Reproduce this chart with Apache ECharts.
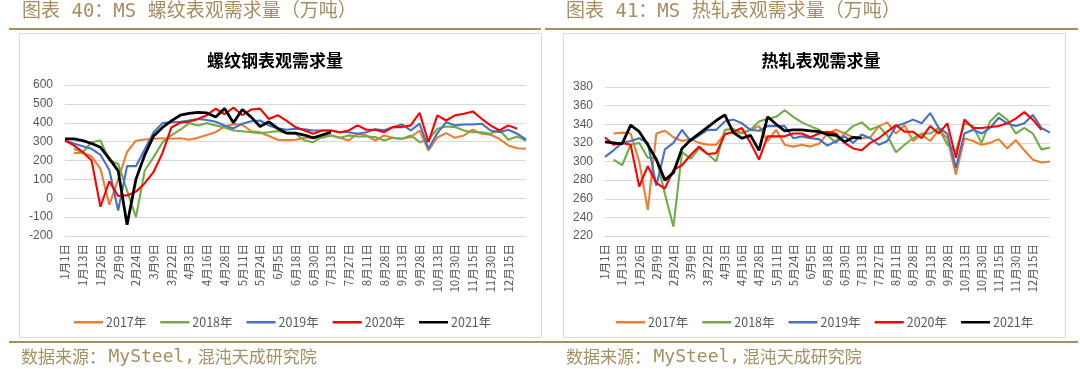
<!DOCTYPE html>
<html><head><meta charset="utf-8">
<script src="https://cdn.jsdelivr.net/npm/echarts@6/dist/echarts.min.js"></script>
<style>html,body{margin:0;padding:0;background:#fff}#c{width:1080px;height:369px}</style>
</head><body><div id="c"></div>
<script>
const categories = ['1月1日','1月7日','1月13日','1月19日','1月26日','2月2日','2月9日','2月16日','2月24日','3月2日','3月9日','3月15日','3月22日','3月28日','4月3日','4月10日','4月16日','4月22日','4月28日','5月5日','5月11日','5月17日','5月24日','5月30日','6月5日','6月11日','6月18日','6月24日','6月30日','7月6日','7月13日','7月20日','7月27日','8月3日','8月11日','8月20日','8月28日','9月5日','9月13日','9月20日','9月28日','10月6日','10月13日','10月22日','10月30日','11月7日','11月15日','11月22日','11月30日','12月7日','12月15日','12月22日','12月29日'];
const seriesNames = ['2017年','2018年','2019年','2020年','2021年'];

// 螺纹 (rebar) apparent demand
const rebar2017 = [null,240,240,222,156,-35,100,245,305,311,315,318,315,318,310,320,335,350,380,392,390,355,350,330,310,308,310,320,324,320,333,320,306,342,333,306,333,320,315,324,359,253,322,345,320,333,363,342,336,315,280,265,262];
const rebar2018 = [null,262,244,297,306,200,182,40,-100,147,218,297,333,363,398,386,398,386,375,359,355,350,345,350,356,345,342,306,297,327,333,320,333,327,327,324,306,320,315,333,297,310,368,380,377,359,350,350,342,363,310,327,306];
const rebar2019 = [306,290,275,262,230,150,-65,170,170,260,350,398,403,405,412,420,415,405,385,370,395,408,412,386,370,363,368,365,359,359,359,350,350,342,350,365,360,377,391,359,395,262,345,403,386,391,391,395,359,350,363,342,312];
const rebar2020 = [306,280,245,200,-45,90,12,15,35,80,140,240,375,400,405,420,440,475,445,480,440,470,475,420,440,410,377,359,342,359,359,350,359,386,363,363,350,377,377,386,453,297,439,412,439,448,460,421,386,359,386,368,null];
const rebar2021 = [315,315,305,290,270,210,145,-140,100,230,330,375,410,440,450,455,452,430,475,400,470,430,380,405,370,345,345,335,320,335,350];

// 热轧 (hot-rolled) apparent demand
const hrc2017 = [null,330,331,330,300,248,330,333,326,322,324,320,318,318,330,331,331,334,338,322,334,318,316,318,316,319,330,334,330,326,325,326,338,342,330,339,322,329,322,334,325,286,325,322,318,320,324,314,323,312,302,299,300];
const hrc2018 = [null,302,296,318,320,304,304,265,230,310,303,314,308,300,334,335,330,334,343,346,348,355,348,342,338,334,328,320,330,338,342,334,338,328,310,318,325,330,330,336,318,311,341,338,320,343,352,345,330,336,330,313,315];
const hrc2019 = [305,312,320,322,325,320,274,313,320,334,322,328,334,334,343,345,341,334,333,338,338,338,325,327,325,324,317,322,327,320,329,325,318,322,338,341,345,341,352,336,330,293,330,334,330,336,347,341,338,341,350,336,331];
const hrc2020 = [326,318,320,318,273,295,277,271,291,296,307,316,308,309,329,332,336,320,302,327,327,327,330,330,326,330,332,330,320,314,312,320,325,332,339,332,332,325,338,330,341,304,345,336,336,337,338,341,346,353,345,334,null];
const hrc2021 = [321,320,319,339,332,318,302,280,288,314,323,330,337,344,350,331,325,328,312,348,340,333,334,334,333,332,329,328,321,326,325];

const rebarTicks = {min:-200, max:600, interval:100};
const hrcTicks = {min:220, max:380, interval:20};

const colors = ['#ED7D31','#70AD47','#4472C4','#FF0000','#000000'];
const gold = '#a88d5e';
const cjk = "'Noto Sans CJK SC',sans-serif";
const latinCjk = "'DejaVu Sans Mono','Noto Sans CJK SC',sans-serif";

function makeSeries(arrs, gi){
  return arrs.map((d,k)=>({
    name: seriesNames[k], type:'line', xAxisIndex:gi, yAxisIndex:gi,
    data:d, showSymbol:false, symbol:'none', smooth:false, connectNulls:false,
    lineStyle:{color:colors[k], width: k===4?2.8:2.1},
    itemStyle:{color:colors[k]}, z: k===4?10:5+k
  }));
}
function xAx(gi){
  return {type:'category', gridIndex:gi, data:categories, boundaryGap:false,
    axisLine:{show:true, onZero:false, lineStyle:{color:'#d9d9d9'}},
    axisTick:{show:false},
    axisLabel:{rotate:90, color:'#595959', fontSize:11.5, margin:8, fontFamily:cjk,
      interval:(i)=> i%2===0 && i<=50 }};
}
function yAx(gi,t){
  return {type:'value', gridIndex:gi, min:t.min, max:t.max, interval:t.interval,
    axisLine:{show:false}, axisTick:{show:false},
    axisLabel:{color:'#595959', fontSize:12, margin:12, fontFamily:'Liberation Sans, Arial, sans-serif'},
    splitLine:{lineStyle:{color:'#d9d9d9', width:1}}};
}
function legend(left){
  return {data:seriesNames, left:left, top:311, itemWidth:29, itemHeight:12, itemGap:14,
    icon:'path://M0,5L29,5L29,7.5L0,7.5Z',
    textStyle:{color:'#595959', fontSize:12.5, fontFamily:cjk, padding:[0,0,0,-2]}};
}
function footer(left){
  return {type:'text', left:left, top:348, style:{
    text:'{a|数据来源：}{b|MySteel,}{a|混沌天成研究院}',
    rich:{a:{font:"17px "+cjk, fill:gold, padding:[0,0.5,0,0.5]}, b:{font:"18px 'DejaVu Sans Mono',monospace", fill:gold, padding:[0,2,0,2]}}}};
}

const chart = echarts.init(document.getElementById('c'), null, {renderer:'canvas'});
chart.setOption({
  animation:false,
  backgroundColor:'#ffffff',
  title:[
    {text:'螺纹钢表观需求量', left:270, top:47, textAlign:'center',
     textStyle:{fontSize:17, fontWeight:'bold', color:'#000', fontFamily:cjk}},
    {text:'热轧表观需求量', left:816, top:47, textAlign:'center',
     textStyle:{fontSize:17, fontWeight:'bold', color:'#000', fontFamily:cjk}}
  ],
  legend:[legend(69), legend(611)],
  grid:[
    {left:65, top:85, width:461, height:151, containLabel:false},
    {left:605, top:87, width:445, height:149, containLabel:false}
  ],
  xAxis:[xAx(0), xAx(1)],
  yAxis:[yAx(0,rebarTicks), yAx(1,hrcTicks)],
  series:[...makeSeries([rebar2017,rebar2018,rebar2019,rebar2020,rebar2021],0),
          ...makeSeries([hrc2017,hrc2018,hrc2019,hrc2020,hrc2021],1)],
  graphic:[
    {type:'text', left:22, top:3, style:{text:'图表 40：MS 螺纹表观需求量（万吨）', fill:gold, font:"19px "+latinCjk}},
    {type:'text', left:566, top:3, style:{text:'图表 41：MS 热轧表观需求量（万吨）', fill:gold, font:"19px "+latinCjk}},
    {type:'line', shape:{x1:9,y1:29,x2:541,y2:29}, style:{stroke:gold, lineWidth:2}},
    {type:'line', shape:{x1:545,y1:29,x2:1078,y2:29}, style:{stroke:gold, lineWidth:2}},
    {type:'rect', shape:{x:19.5,y:33.5,width:522,height:304}, style:{fill:'none', stroke:'#d9d9d9', lineWidth:1}, z:-1},
    {type:'rect', shape:{x:563.5,y:33.5,width:502,height:304}, style:{fill:'none', stroke:'#d9d9d9', lineWidth:1}, z:-1},
    {type:'line', shape:{x1:9,y1:342,x2:1078,y2:342}, style:{stroke:gold, lineWidth:2}},
    footer(21), footer(566)
  ]
});
</script></body></html>
